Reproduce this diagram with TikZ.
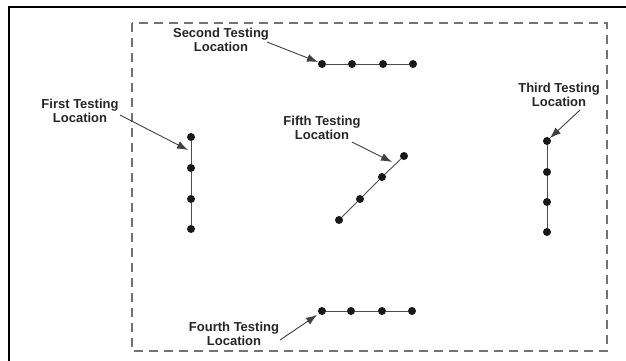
\documentclass[tikz,border=0pt]{standalone}
\usepackage{fontspec}
\setmainfont{Liberation Sans}
\usetikzlibrary{arrows.meta}
\begin{document}
\begin{tikzpicture}[x=1pt,y=-1pt,
  dot/.style={circle,fill=black!90,inner sep=0pt,minimum size=8pt},
  lbl/.style={font=\fontsize{13}{13.5}\selectfont\bfseries,text=black!85,align=center,inner sep=0pt},
  pointer/.style={-{Latex[length=11pt,width=8pt]},line width=0.9pt,draw=black!75},
  chainline/.style={line width=0.9pt,draw=black!70},
  siteedge/.style={draw=black!55,line width=1.2pt,dash pattern=on 9pt off 6pt},
  outerframe/.style={draw=black,line width=1.8pt}]
\useasboundingbox (0,0) rectangle (626,360);
\fill[white] (0,0) rectangle (626,360);

% outer frame and dashed site boundary
\draw[outerframe] (9,362) -- (9,7) -- (628,7);
\draw[siteedge] (132,23) rectangle (607,351);

% first testing location
\node[dot] (f1) at (191,137) {};
\node[dot] (f2) at (191,168) {};
\node[dot] (f3) at (191,199) {};
\node[dot] (f4) at (191,229) {};
\draw[chainline] (f1) -- (f2) -- (f3) -- (f4);

% second testing location
\node[dot] (s1) at (322,64) {};
\node[dot] (s2) at (352,64) {};
\node[dot] (s3) at (383,64) {};
\node[dot] (s4) at (413,64) {};
\draw[chainline] (s1) -- (s2) -- (s3) -- (s4);

% third testing location
\node[dot] (t1) at (547,141) {};
\node[dot] (t2) at (547,172) {};
\node[dot] (t3) at (547,202) {};
\node[dot] (t4) at (547,232) {};
\draw[chainline] (t1) -- (t2) -- (t3) -- (t4);

% fourth testing location
\node[dot] (u1) at (322,311) {};
\node[dot] (u2) at (351,311) {};
\node[dot] (u3) at (382,311) {};
\node[dot] (u4) at (412,311) {};
\draw[chainline] (u1) -- (u2) -- (u3) -- (u4);

% fifth testing location
\node[dot] (v1) at (404,156) {};
\node[dot] (v2) at (382,177) {};
\node[dot] (v3) at (360,199) {};
\node[dot] (v4) at (339,220) {};
\draw[chainline] (v1) -- (v2) -- (v3) -- (v4);

% labels
\node[lbl] (lfirst)  at (80,111)  {First Testing\\Location};
\node[lbl] (lsecond) at (221,40)  {Second Testing\\Location};
\node[lbl] (lthird)  at (559,95)  {Third Testing\\Location};
\node[lbl] (lfourth) at (234,334) {Fourth Testing\\Location};
\node[lbl] (lfifth)  at (322,128) {Fifth Testing\\Location};

% pointer ends
\coordinate (a1) at (120,115);  \coordinate (b1) at (188,150);
\coordinate (a2) at (267,42);   \coordinate (b2) at (318,62);
\coordinate (a3) at (580,110);  \coordinate (b3) at (550,138);
\coordinate (a4) at (280,340);  \coordinate (b4) at (317,315);
\coordinate (a5) at (352,142);  \coordinate (b5) at (392,162);

\draw[pointer] (a1) -- (b1);
\draw[pointer] (a2) -- (b2);
\draw[pointer] (a3) -- (b3);
\draw[pointer] (a4) -- (b4);
\draw[pointer] (a5) -- (b5);
\end{tikzpicture}
\end{document}
